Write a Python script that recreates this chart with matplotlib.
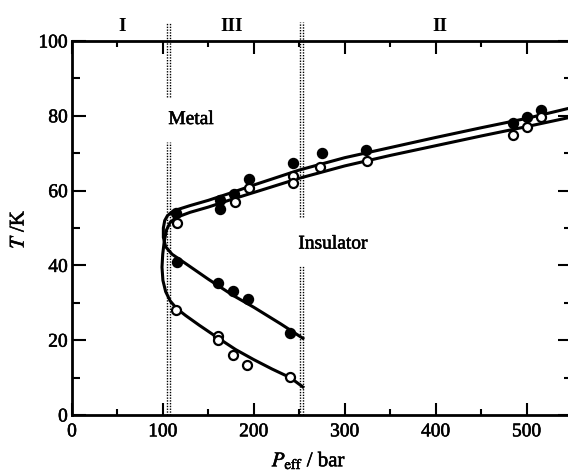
import matplotlib
matplotlib.use("Agg")
import matplotlib.pyplot as plt
import matplotlib.patheffects as pe
from matplotlib.ticker import MultipleLocator

plt.rcParams['font.family'] = ['Liberation Serif', 'DejaVu Serif']
plt.rcParams['mathtext.fontset'] = 'stix'

# ---- data (P_eff / bar, T / K) ----
filled_P = [114, 163, 163, 178, 195, 243, 275, 323, 485, 500, 516,
            115, 161, 177, 194, 240]
filled_T = [54, 57.5, 55, 59, 63, 67.3, 70, 70.9, 78, 79.8, 81.5,
            41, 35.2, 33.2, 31, 22]
open_P = [116, 179, 195, 243, 243, 273, 324, 485, 500, 516,
          114, 161, 161, 177, 192, 240]
open_T = [51.3, 57, 60.8, 64, 62, 66.3, 67.8, 75, 77, 79.6,
          28, 21, 20, 16, 13.4, 10.2]

# fitted phase-boundary lines
fline_P = [254, 230, 200, 177, 150, 125, 110, 103, 100.5, 100.5, 102, 105,
           110, 117, 130, 150, 175, 200, 250, 300, 350, 400, 450, 500, 550]
fline_T = [20.5, 24.3, 28.8, 32, 36.3, 40.5, 43, 45, 47.5, 50, 52, 53.3,
           54.3, 55, 56, 57.4, 59.4, 61.5, 65.5, 68.8, 71.5, 74.2, 76.8,
           79.3, 82.2]
oline_P = [254, 240, 220, 200, 180, 160, 140, 125, 115, 108, 103, 100, 99,
           99.8, 101.5, 104, 108, 113, 120, 130, 150, 175, 200, 250, 300,
           350, 400, 450, 500, 550]
oline_T = [7.5, 10, 12.3, 14.8, 17.5, 20.7, 24, 26.6, 28.5, 30.5, 33, 36,
           39.5, 43, 46.5, 49.5, 51.5, 52.5, 53.3, 54.2, 55.6, 57.6, 59.5,
           63.3, 66.6, 69.4, 72, 74.6, 77.1, 79.7]

region_labels = ['I', 'III', 'II']
region_pos = [55, 176, 405]

fig = plt.figure(figsize=(5.68, 4.76), dpi=100)
ax = fig.add_axes([72/568, 61/476, 500/568, 374/476])
ax.set_xlim(0, 550)
ax.set_ylim(0, 100)

thick = [pe.withStroke(linewidth=0.4, foreground='black')]

# dotted phase separators (drawn as double dotted lines)
dot = dict(color='black', lw=1.0, ls=(0, (1, 1)), clip_on=False)
for x in (104, 107.5):
    ax.plot([x, x], [0, 73], **dot)
    ax.plot([x, x], [85, 105], **dot)
for x in (251, 254.5):
    ax.plot([x, x], [0, 40], **dot)
    ax.plot([x, x], [53, 105], **dot)

ax.plot(fline_P, fline_T, color='black', lw=2.2, zorder=3,
        solid_joinstyle='round')
ax.plot(oline_P, oline_T, color='black', lw=2.2, zorder=3,
        solid_joinstyle='round')
ax.plot(filled_P, filled_T, 'o', ms=7.2, mfc='black', mec='black', zorder=4)
ax.plot(open_P, open_T, 'o', ms=6.5, mfc='white', mec='black', mew=1.6, zorder=4)

ax.text(106, 79, 'Metal', fontsize=14, va='center', ha='left', path_effects=thick)
ax.text(249, 45.7, 'Insulator', fontsize=14, va='center', ha='left',
        path_effects=thick)
for lab, xp in zip(region_labels, region_pos):
    ax.text(xp, 103.8, lab, fontsize=14, fontweight='bold', ha='center',
            va='center', clip_on=False)

ax.xaxis.set_major_locator(MultipleLocator(100))
ax.xaxis.set_minor_locator(MultipleLocator(50))
ax.yaxis.set_major_locator(MultipleLocator(20))
ax.yaxis.set_minor_locator(MultipleLocator(10))
ax.tick_params(which='both', direction='in', top=True, right=True, width=1.5,
               labelsize=14)
ax.tick_params(axis='x', which='major', length=9, pad=6)
ax.tick_params(axis='x', which='minor', length=4)
ax.tick_params(axis='y', which='major', length=10, pad=3)
ax.tick_params(axis='y', which='minor', length=6)
for lbl in ax.get_xticklabels() + ax.get_yticklabels():
    lbl.set_path_effects(thick)
for s in ax.spines.values():
    s.set_linewidth(2.0)

fig.text(309/568, 1 - 461/476, r'$P_{\mathrm{eff}}$ / bar', fontsize=15,
         ha='center', va='center', path_effects=thick)
fig.text(19/568, 1 - 229/476, r'$T$ /K', fontsize=15, rotation=90,
         ha='center', va='center', path_effects=thick)

fig.savefig('out.png', dpi=100)
